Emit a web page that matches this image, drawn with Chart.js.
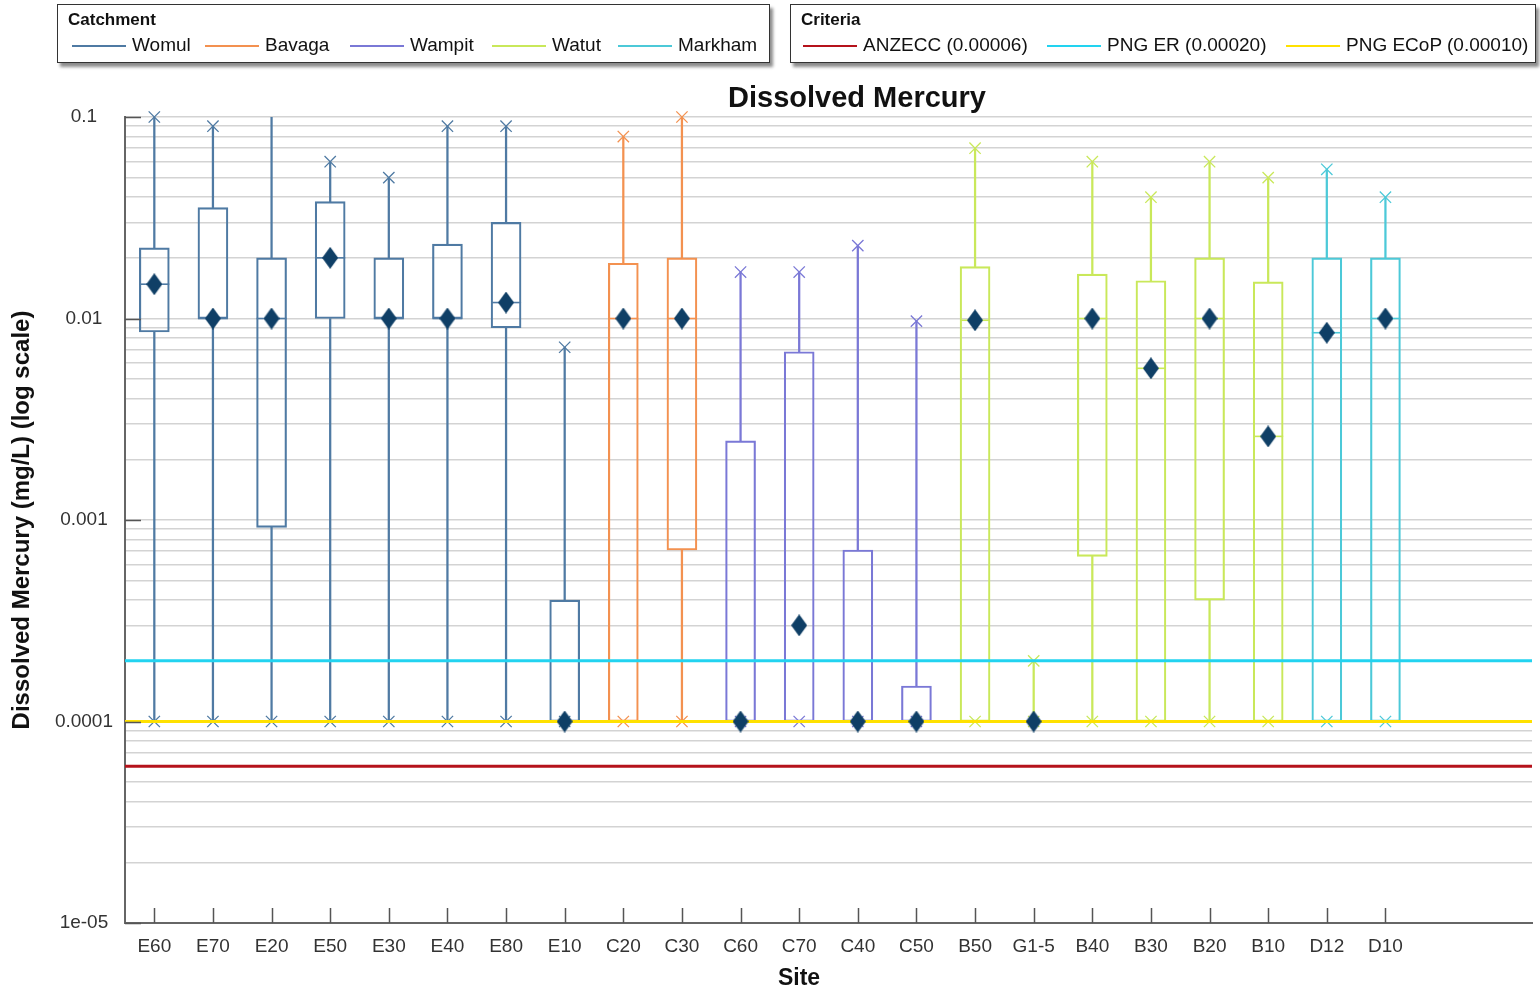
<!DOCTYPE html>
<html>
<head>
<meta charset="utf-8">
<title>Dissolved Mercury</title>
<script src="https://cdn.jsdelivr.net/npm/chart.js@4.4.1/dist/chart.umd.min.js"></script>
<style>
    body { margin: 0; background: #fff; font-family: "Liberation Sans", Arial, sans-serif; }
    #wrap { position: relative; width: 1540px; height: 992px; overflow: hidden; }
    #chart { position: absolute; left: 0; top: 0; }
    .legend { position: absolute; top: 4px; height: 59px; background: #fff; border: 1.5px solid #333;
              box-shadow: 3px 4px 3px rgba(0,0,0,0.45); box-sizing: border-box; }
    .legend .ttl { position: absolute; left: 10px; top: 5px; font-weight: bold; font-size: 17px; color: #111; }
    .legend .item { position: absolute; top: 29px; font-size: 19px; line-height: 22px; color: #111; white-space: nowrap; }
    .legend .ln { display: inline-block; width: 54px; height: 2px; vertical-align: middle; margin-right: 6px; }
    .txt { position: absolute; font-weight: bold; color: #111; white-space: nowrap; transform: translateX(-50%); }
</style>
</head>
<body>
<div id="wrap">
    <canvas id="chart" width="1540" height="992"></canvas>

    <div class="legend" style="left:57px; width:713px;">
        <div class="ttl">Catchment</div>
        <div class="item" style="left:14px"><span class="ln" style="background:#4f7aa3"></span>Womul</div>
        <div class="item" style="left:147px"><span class="ln" style="background:#f39150"></span>Bavaga</div>
        <div class="item" style="left:292px"><span class="ln" style="background:#7a78d6"></span>Wampit</div>
        <div class="item" style="left:434px"><span class="ln" style="background:#c9e85a"></span>Watut</div>
        <div class="item" style="left:560px"><span class="ln" style="background:#4cc9d8"></span>Markham</div>
    </div>
    <div class="legend" style="left:790px; width:746px;">
        <div class="ttl">Criteria</div>
        <div class="item" style="left:12px"><span class="ln" style="background:#b5121b"></span>ANZECC (0.00006)</div>
        <div class="item" style="left:256px"><span class="ln" style="background:#22d3f0"></span>PNG ER (0.00020)</div>
        <div class="item" style="left:495px"><span class="ln" style="background:#ffe100"></span>PNG ECoP (0.00010)</div>
    </div>

    <div class="txt" style="left:857px; top:81px; font-size:29px;">Dissolved Mercury</div>
    <div class="txt" style="left:799px; top:964px; font-size:23px;">Site</div>
</div>

<script>
// ---- data (mg/L) ----
const sites = ['E60', 'E70', 'E20', 'E50', 'E30', 'E40', 'E80', 'E10', 'C20', 'C30', 'C60',
               'C70', 'C40', 'C50', 'B50', 'G1-5', 'B40', 'B30', 'B20', 'B10', 'D12', 'D10'];
const catchment = ['Womul', 'Womul', 'Womul', 'Womul', 'Womul', 'Womul', 'Womul', 'Womul',
                   'Bavaga', 'Bavaga', 'Wampit', 'Wampit', 'Wampit', 'Wampit',
                   'Watut', 'Watut', 'Watut', 'Watut', 'Watut', 'Watut', 'Markham', 'Markham'];

const maxVals = [0.1, 0.09, 0.12, 0.06, 0.05, 0.09, 0.09, 0.0072, 0.08, 0.1, 0.017,
                 0.017, 0.023, 0.0097, 0.07, 0.0002, 0.06, 0.04, 0.06, 0.05, 0.055, 0.04];
const q3Vals = [0.0224, 0.0355, 0.02, 0.038, 0.02, 0.0234, 0.03, 0.0004, 0.0188, 0.02, 0.00247,
                0.00684, 0.00071, 0.00015, 0.0181, 0.0001, 0.0166, 0.0154, 0.02, 0.0152, 0.02, 0.02];
const medianVals = [0.0148, 0.01, 0.01, 0.02, 0.01, 0.01, 0.012, 0.0001, 0.01, 0.01, 0.0001,
                    0.0001, 0.0001, 0.0001, 0.0098, 0.0001, 0.01, 0.00566, 0.01, 0.0026, 0.0085, 0.01];
const q1Vals = [0.00857, 0.01, 0.00092, 0.01, 0.01, 0.01, 0.009, 0.0001, 0.0001, 0.00071, 0.0001,
                0.0001, 0.0001, 0.0001, 0.0001, 0.0001, 0.00066, 0.0001, 0.0004, 0.0001, 0.0001, 0.0001];
const minVals = [0.0001, 0.0001, 0.0001, 0.0001, 0.0001, 0.0001, 0.0001, 0.0001, 0.0001, 0.0001, 0.0001,
                 0.0001, 0.0001, 0.0001, 0.0001, 0.0001, 0.0001, 0.0001, 0.0001, 0.0001, 0.0001, 0.0001];
const meanVals = [0.0148, 0.01, 0.01, 0.02, 0.01, 0.01, 0.012, 0.0001, 0.01, 0.01, 0.0001,
                  0.0003, 0.0001, 0.0001, 0.0098, 0.0001, 0.01, 0.00566, 0.01, 0.0026, 0.0085, 0.01];

const criteriaNames = ['ANZECC (0.00006)', 'PNG ER (0.00020)', 'PNG ECoP (0.00010)'];
const criteriaVals = [0.00006, 0.0002, 0.0001];

const yDecades = [1e-5, 1e-4, 1e-3, 1e-2, 1e-1];
const yTickLabels = ['1e-05', '0.0001', '0.001', '0.01', '0.1'];

const catchmentColors = { Womul: '#4f7aa3', Bavaga: '#f39150', Wampit: '#7a78d6', Watut: '#c9e85a', Markham: '#4cc9d8' };
const criteriaColors = ['#b5121b', '#22d3f0', '#ffe100'];
const siteColors = catchment.map(c => catchmentColors[c]);

Chart.defaults.font.family = '"Liberation Sans", Arial, sans-serif';
Chart.defaults.color = '#333';

function makeDiamond(w, h, color) {
    const c = document.createElement('canvas');
    c.width = w; c.height = h;
    const g = c.getContext('2d');
    g.fillStyle = color;
    g.beginPath();
    g.moveTo(w / 2, 0); g.lineTo(w, h / 2); g.lineTo(w / 2, h); g.lineTo(0, h / 2);
    g.closePath();
    g.fill();
    return c;
}
const diamond = makeDiamond(16, 22, '#0f3f66');

const colorOf = ctx => siteColors[ctx.raw ? ctx.raw.x : ctx.dataIndex];
const pts = vals => sites.map((s, i) => ({ x: i, y: vals[i] }));
const ranges = (lo, hi) => sites.map((s, i) => ({ x: i, y: [lo[i], hi[i]] }));

const xMax = sites.length + 1.5;

const datasets = [
    // boxes
    { type: 'bar', data: ranges(q1Vals, q3Vals), grouped: false, barThickness: 30,
      backgroundColor: 'rgba(0,0,0,0)', borderColor: colorOf, borderWidth: 1.5, borderSkipped: false, order: 5 },
    // whiskers
    { type: 'bar', data: ranges(q3Vals, maxVals), grouped: false, barThickness: 1.6,
      backgroundColor: colorOf, borderWidth: 0, order: 5 },
    { type: 'bar', data: ranges(minVals, q1Vals), grouped: false, barThickness: 1.6,
      backgroundColor: colorOf, borderWidth: 0, order: 5 },
    // max / min markers
    { type: 'line', data: pts(maxVals), showLine: false, pointStyle: 'crossRot', pointRadius: 8,
      pointBorderColor: colorOf, pointBorderWidth: 1.3, clip: 9, order: 4 },
    { type: 'line', data: pts(minVals), showLine: false, pointStyle: 'crossRot', pointRadius: 8,
      pointBorderColor: colorOf, pointBorderWidth: 1.3, order: 4 },
    // medians
    { type: 'line', data: pts(medianVals), showLine: false, pointStyle: 'line', pointRadius: 15,
      pointBorderColor: colorOf, pointBorderWidth: 1.6, order: 3 },
];

criteriaVals.forEach((v, k) => {
    datasets.push({
        type: 'line', label: criteriaNames[k],
        data: [{ x: -0.5, y: v }, { x: xMax, y: v }],
        borderColor: criteriaColors[k], borderWidth: 3, pointRadius: 0, order: 1
    });
});

// means
datasets.push({ type: 'line', data: pts(meanVals), showLine: false, pointStyle: diamond,
                pointRadius: 8, order: 0 });

// inside tick marks, like the original figure
const insideTicks = {
    id: 'insideTicks',
    afterDatasetsDraw(chart) {
        const { ctx, chartArea, scales: { x, y } } = chart;
        ctx.save();
        ctx.strokeStyle = '#555';
        ctx.lineWidth = 1.5;
        ctx.beginPath();
        yDecades.forEach(v => {
            const py = Math.round(y.getPixelForValue(v)) + 0.5;
            ctx.moveTo(chartArea.left, py);
            ctx.lineTo(chartArea.left + 16, py);
        });
        sites.forEach((s, i) => {
            const px = Math.round(x.getPixelForValue(i)) + 0.5;
            ctx.moveTo(px, chartArea.bottom);
            ctx.lineTo(px, chartArea.bottom - 15);
        });
        ctx.stroke();
        ctx.restore();
    }
};

new Chart(document.getElementById('chart'), {
    type: 'bar',
    data: { datasets: datasets },
    options: {
        responsive: false,
        animation: false,
        devicePixelRatio: 1,
        layout: { autoPadding: false, padding: { top: 117, right: 8, left: 0, bottom: 0 } },
        plugins: {
            legend: { display: false },
            tooltip: { enabled: false }
        },
        scales: {
            x: {
                type: 'linear',
                offset: false,
                min: -0.5,
                max: xMax,
                afterBuildTicks: scale => { scale.ticks = sites.map((s, i) => ({ value: i })); },
                afterFit: scale => {
                    scale.height = 69;
                    scale.paddingLeft = 0;
                    scale.paddingRight = 0;
                },
                grid: { drawOnChartArea: false, drawTicks: false },
                border: { color: '#666', width: 2 },
                ticks: {
                    autoSkip: false,
                    maxRotation: 0,
                    padding: 12,
                    color: '#333',
                    font: { size: 19 },
                    callback: v => sites[v] !== undefined ? sites[v] : ''
                }
            },
            y: {
                type: 'logarithmic',
                min: 1e-5,
                max: 0.1,
                afterBuildTicks: scale => {
                    const t = [];
                    for (let d = 0; d < yDecades.length - 1; d++) {
                        for (let k = 1; k <= 9; k++) t.push({ value: k * yDecades[d] });
                    }
                    t.push({ value: yDecades[yDecades.length - 1] });
                    scale.ticks = t;
                },
                afterFit: scale => { scale.width = 125; },
                grid: { color: '#d3d3d3', lineWidth: 1.5, drawTicks: false },
                border: { color: '#666', width: 2 },
                ticks: {
                    autoSkip: false,
                    padding: 12,
                    crossAlign: 'center',
                    color: '#333',
                    font: { size: 19 },
                    callback: v => {
                        const k = yDecades.findIndex(d => Math.abs(v / d - 1) < 1e-6);
                        return k >= 0 ? yTickLabels[k] : '';
                    }
                },
                title: {
                    display: true,
                    text: 'Dissolved Mercury (mg/L) (log scale)',
                    color: '#111',
                    font: { size: 24, weight: 'bold' },
                    padding: { top: 8, bottom: 0 }
                }
            }
        }
    },
    plugins: [insideTicks]
});
</script>
</body>
</html>
